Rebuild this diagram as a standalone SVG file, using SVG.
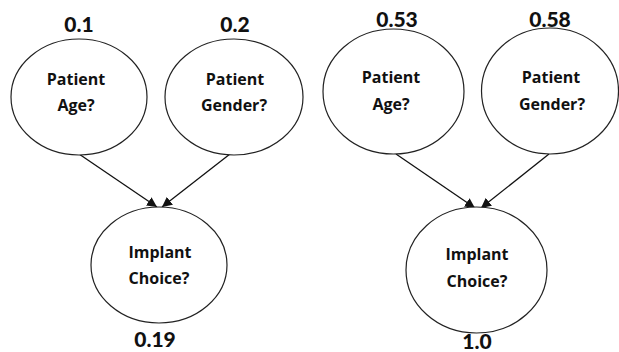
<svg xmlns="http://www.w3.org/2000/svg" width="619" height="352" viewBox="0 0 619 352">
<style>
.node{fill:#fff;stroke:#222;stroke-width:1.2}
.lbl{font-family:"Open Sans",Lato,"Liberation Sans",sans-serif;font-weight:bold;font-size:16px;fill:#111;text-anchor:middle}
.num{font-family:Lato,"Liberation Sans",sans-serif;font-weight:900;font-size:21px;fill:#111;text-anchor:middle}
.edge{stroke:#111;stroke-width:1.3;fill:none;marker-end:url(#ah)}
</style>
<defs>
<marker id="ah" viewBox="0 0 10 10" refX="10" refY="5" markerWidth="10" markerHeight="10" markerUnits="userSpaceOnUse" orient="auto">
<path d="M0,0 L10,5 L0,10 z" fill="#111"/>
</marker>
</defs>
<rect width="619" height="352" fill="#fff"/>
<g id="connectors">
<line class="edge" x1="79" y1="154" x2="157" y2="207"/>
<line class="edge" x1="230" y1="154" x2="162" y2="207"/>
<line class="edge" x1="396" y1="154" x2="475" y2="208"/>
<line class="edge" x1="549" y1="154" x2="481" y2="208"/>
</g>
<g id="age1">
<ellipse class="node" cx="79" cy="97" rx="68" ry="58"/>
<text class="lbl" x="76" y="85">Patient</text>
<text class="lbl" x="76" y="111">Age?</text>
<text class="num" x="79" y="32">0.1</text>
</g>
<g id="gender1">
<ellipse class="node" cx="234" cy="97" rx="69" ry="58"/>
<text class="lbl" x="235" y="85">Patient</text>
<text class="lbl" x="234" y="111">Gender?</text>
<text class="num" x="235" y="32">0.2</text>
</g>
<g id="implant1">
<ellipse class="node" cx="159" cy="265" rx="68" ry="58"/>
<text class="lbl" x="160" y="258">Implant</text>
<text class="lbl" x="159" y="284">Choice?</text>
<text class="num" x="155" y="347">0.19</text>
</g>
<g id="age2">
<ellipse class="node" cx="393.5" cy="91.5" rx="70.5" ry="62.5"/>
<text class="lbl" x="391" y="83">Patient</text>
<text class="lbl" x="391" y="110">Age?</text>
<text class="num" x="397" y="27">0.53</text>
</g>
<g id="gender2">
<ellipse class="node" cx="550" cy="91" rx="68.5" ry="63"/>
<text class="lbl" x="551" y="83">Patient</text>
<text class="lbl" x="552" y="110">Gender?</text>
<text class="num" x="550" y="27">0.58</text>
</g>
<g id="implant2">
<ellipse class="node" cx="476.5" cy="270" rx="70.5" ry="63"/>
<text class="lbl" x="477" y="260">Implant</text>
<text class="lbl" x="477" y="287">Choice?</text>
<text class="num" x="477" y="349">1.0</text>
</g>
</svg>
